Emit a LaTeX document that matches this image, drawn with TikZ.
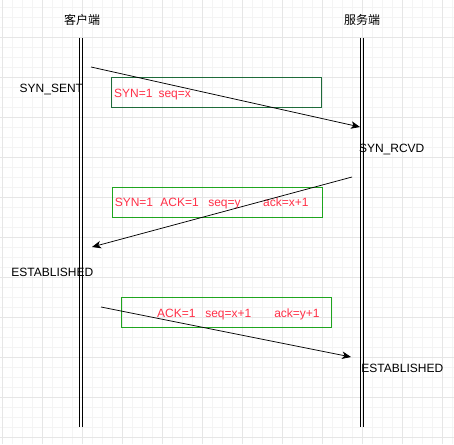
\documentclass[tikz,border=0pt]{standalone}
\usepackage{fontspec}
\setmainfont{Liberation Sans}
\newfontfamily\cjk{Noto Sans CJK SC}
\usetikzlibrary{arrows.meta}
\definecolor{minorgrid}{HTML}{F4F4F4}
\definecolor{majorgrid}{HTML}{E6E6E6}
\definecolor{darkbox}{HTML}{1E6B3A}
\definecolor{greenbox}{HTML}{1FA51F}
\definecolor{redtxt}{HTML}{FF3048}
\tikzset{
  lbl/.style={font=\fontsize{12}{14}\selectfont, inner sep=0pt, text=black, anchor=base west},
  msg/.style={font=\fontsize{12}{14}\selectfont, inner sep=0pt, text=redtxt, anchor=base west},
  head/.style={font=\cjk\fontsize{12}{14}\selectfont, inner sep=0pt},
  life/.style={line width=0.9pt, black},
  msgbox/.style={line width=0.9pt, minimum height=29.7pt, inner sep=0pt},
  msgarrow/.style={line width=0.75pt, black, -{Stealth[length=9pt,width=7.5pt,inset=2.5pt]}},
}
\begin{document}
\begin{tikzpicture}[x=1pt,y=-1pt]
\useasboundingbox (0,0) rectangle (454,444);
\fill[white] (0,0) rectangle (454,444);
% grid
\foreach \i in {0,...,45} {
  \draw[minorgrid, line width=0.6pt] (2+10*\i,0) -- (2+10*\i,444);
}
\foreach \j in {0,...,44} {
  \draw[minorgrid, line width=0.6pt] (0,7+10*\j) -- (454,7+10*\j);
}
\foreach \i in {0,...,11} {
  \draw[majorgrid, line width=0.75pt] (2+40*\i,0) -- (2+40*\i,444);
}
\foreach \j in {0,...,10} {
  \draw[majorgrid, line width=0.75pt] (0,37+40*\j) -- (454,37+40*\j);
}
% headers
\node[head] (client) at (82,19.5) {客户端};
\node[head] (server) at (362,19.5) {服务端};
% lifelines
\draw[life] (79.5,38) -- (79.5,427);
\draw[life] (82.5,38) -- (82.5,427);
\draw[life] (360,38) -- (360,427);
\draw[life] (363,38) -- (363,427);
% boxes
\node[draw=darkbox, msgbox, minimum width=210pt] (box1) at (216,92.5) {};
\node[msg] (t1) at (114,97.2) {SYN=1\hspace{6pt}seq=x};
\node[draw=greenbox, msgbox, minimum width=209.6pt] (box2) at (217.5,202.2) {};
\node[msg] (t2) at (114.6,206.7) {SYN=1\hspace{7.3pt}ACK=1\hspace{9.5pt}seq=y\hspace{22.5pt}ack=x+1};
\node[draw=greenbox, msgbox, minimum width=210pt] (box3) at (226.3,312.2) {};
\node[msg] (t3) at (157,317.7) {ACK=1\hspace{9.7pt}seq=x+1\hspace{23pt}ack=y+1};
% state labels
\node[lbl] (s1) at (19.5,92.3) {SYN\_SENT};
\node[lbl] (s2) at (358.8,152.3) {SYN\_RCVD};
\node[lbl] (s3) at (11.2,276) {ESTABLISHED};
\node[lbl] (s4) at (361.2,372.3) {ESTABLISHED};
% arrow endpoints
\coordinate (a1s) at (91,67);
\coordinate (a1e) at (360,127);
\coordinate (a2s) at (352,177);
\coordinate (a2e) at (92,247);
\coordinate (a3s) at (101,307);
\coordinate (a3e) at (351,357);
\draw[msgarrow] (a1s) -- (a1e);
\draw[msgarrow] (a2s) -- (a2e);
\draw[msgarrow] (a3s) -- (a3e);
\end{tikzpicture}
\end{document}
